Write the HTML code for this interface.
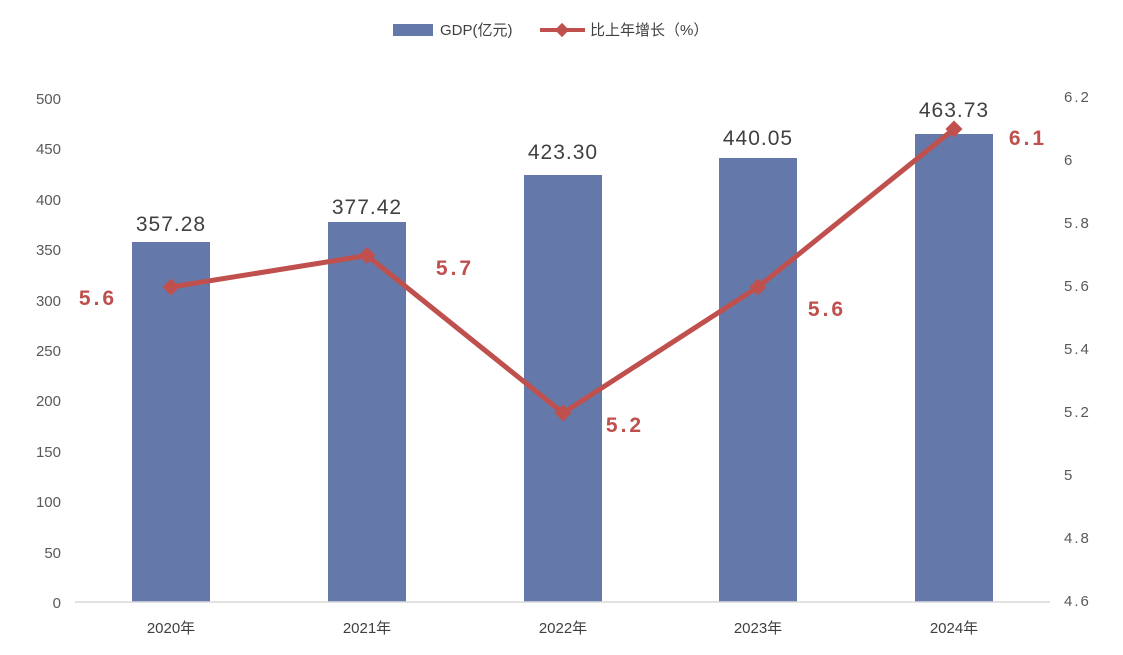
<!DOCTYPE html>
<html><head><meta charset="utf-8"><style>
body{margin:0;background:#fff}
text{font-family:"Liberation Sans","Noto Sans CJK SC",sans-serif}
</style></head><body>
<svg width="1123" height="650" xmlns="http://www.w3.org/2000/svg">
<rect width="1123" height="650" fill="#fff"/>
<rect x="393" y="24" width="40" height="12" fill="#6479aa"/>
<text x="440" y="35" font-size="15" fill="#404040">GDP(亿元)</text>
<line x1="540" y1="30" x2="585" y2="30" stroke="#c0504d" stroke-width="4"/>
<rect x="557" y="25" width="10" height="10" fill="#c0504d" transform="rotate(45 562 30)"/>
<text x="590" y="35" font-size="15" fill="#404040">比上年增长（%）</text>
<g font-size="15" fill="#595959" text-anchor="end">
<text x="61" y="104">500</text><text x="61" y="154">450</text><text x="61" y="205">400</text>
<text x="61" y="255">350</text><text x="61" y="306">300</text><text x="61" y="356">250</text>
<text x="61" y="406">200</text><text x="61" y="457">150</text><text x="61" y="507">100</text>
<text x="61" y="558">50</text><text x="61" y="608">0</text>
</g>
<g font-size="15" fill="#595959" text-anchor="start" letter-spacing="2">
<text x="1064" y="102">6.2</text><text x="1064" y="165">6</text><text x="1064" y="228">5.8</text>
<text x="1064" y="291">5.6</text><text x="1064" y="354">5.4</text><text x="1064" y="417">5.2</text>
<text x="1064" y="480">5</text><text x="1064" y="543">4.8</text><text x="1064" y="606">4.6</text>
</g>
<g fill="#6479aa">
<rect x="132" y="242" width="78" height="360"/>
<rect x="328" y="222" width="78" height="380"/>
<rect x="524" y="175" width="78" height="427"/>
<rect x="719" y="158" width="78" height="444"/>
<rect x="915" y="134" width="78" height="468"/>
</g>
<line x1="75" y1="602" x2="1050" y2="602" stroke="#d9d9d9" stroke-width="1.5"/>
<g font-size="15" fill="#404040" text-anchor="middle">
<text x="171" y="633">2020年</text><text x="367" y="633">2021年</text><text x="563" y="633">2022年</text>
<text x="758" y="633">2023年</text><text x="954" y="633">2024年</text>
</g>
<g font-size="21" fill="#404040" text-anchor="middle" letter-spacing="1">
<text x="171" y="231">357.28</text><text x="367" y="214">377.42</text><text x="563" y="159">423.30</text>
<text x="758" y="145">440.05</text><text x="954" y="117">463.73</text>
</g>
<polyline points="171,287 367,255.5 563,413 758,287 954,129" fill="none" stroke="#c0504d" stroke-width="5" stroke-linejoin="round"/>
<g fill="#c0504d">
<rect x="165" y="281" width="12" height="12" transform="rotate(45 171 287)"/>
<rect x="361" y="249.5" width="12" height="12" transform="rotate(45 367 255.5)"/>
<rect x="557" y="407" width="12" height="12" transform="rotate(45 563 413)"/>
<rect x="752" y="281" width="12" height="12" transform="rotate(45 758 287)"/>
<rect x="948" y="123" width="12" height="12" transform="rotate(45 954 129)"/>
</g>
<g font-size="21" font-weight="bold" fill="#c0504d" text-anchor="middle" letter-spacing="3">
<text x="98" y="305">5.6</text><text x="455" y="275">5.7</text><text x="625" y="432">5.2</text>
<text x="827" y="316">5.6</text><text x="1028" y="145">6.1</text>
</g>
</svg>
</body></html>
